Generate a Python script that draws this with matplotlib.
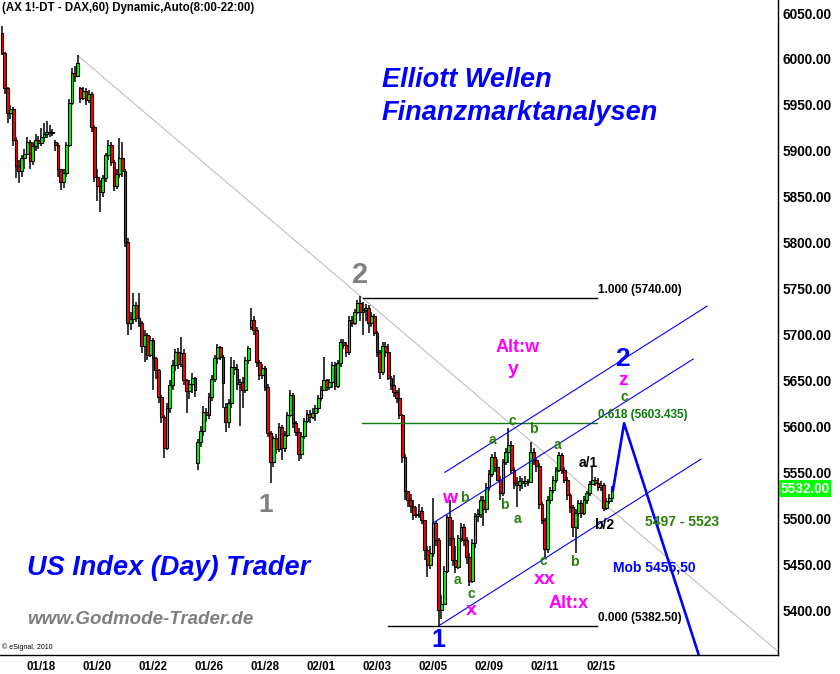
import numpy as np
import matplotlib.pyplot as plt

plt.rcParams['font.family'] = ['Liberation Sans', 'DejaVu Sans']

# DAX future, 60 min bars (08:00-22:00)
closes = [
    6006, 5968, 5941, 5945, 5912, 5884, 5878, 5892, 5897, 5910, 5889, 5905, 5912, 5908, 5915, 5918, 5921, 5920, 5919,
    5906, 5880, 5866, 5876, 5906, 5952, 5985, 5982, 5996,
    5958, 5965, 5955, 5962, 5926, 5871, 5862, 5855, 5870, 5895, 5906, 5888, 5862, 5875, 5892, 5878, 5801, 5713,
    5717, 5732, 5718, 5713, 5688, 5699, 5678, 5694, 5674, 5661, 5632, 5610, 5576, 5620, 5645, 5667, 5681, 5668,
    5680, 5650, 5638, 5646, 5653, 5640,
    5583, 5595, 5616, 5612, 5632, 5652, 5674, 5686, 5676, 5647, 5605, 5625, 5665, 5662, 5646, 5648, 5640, 5672, 5685,
    5716, 5705, 5670, 5656, 5664, 5643, 5593, 5561, 5587, 5575, 5599, 5577, 5591, 5612, 5634, 5604, 5594, 5570, 5589,
    5606, 5614, 5610, 5615, 5620, 5631, 5640, 5650, 5643, 5648, 5667, 5644, 5669, 5692, 5689, 5681, 5716, 5713, 5725,
    5734, 5725,
    5727, 5729, 5713, 5720, 5702, 5681, 5659, 5688, 5681, 5653, 5645, 5637, 5631, 5612, 5567, 5530, 5520, 5513, 5503,
    5505, 5508, 5498, 5465, 5449, 5462, 5495, 5476, 5400, 5407, 5443, 5501, 5478, 5455, 5447, 5478, 5490, 5476, 5458,
    5432, 5473, 5502, 5505, 5520, 5510, 5534, 5548, 5567, 5556, 5542, 5528, 5561, 5572, 5580, 5552, 5538, 5536, 5540,
    5538, 5541, 5539, 5572, 5563, 5557, 5515, 5498, 5467, 5520, 5531, 5542, 5552, 5569, 5553, 5542, 5525, 5512, 5490,
    5506, 5517, 5506, 5520, 5527, 5537, 5542, 5538, 5534, 5536, 5511, 5519, 5522, 5532,
]
highs = [
    6036, 6008, 5970, 5950, 5948, 5915, 5890, 5895, 5902, 5915, 5912, 5910, 5918, 5916, 5925, 5930, 5932, 5928, 5924,
    5912, 5908, 5878, 5880, 5910, 5956, 5990, 5992, 6004,
    5970, 5970, 5968, 5966, 5964, 5928, 5880, 5868, 5874, 5898, 5912, 5910, 5890, 5880, 5914, 5910, 5880, 5805,
    5725, 5745, 5735, 5745, 5715, 5705, 5702, 5698, 5696, 5676, 5662, 5634, 5612, 5625, 5650, 5672, 5684, 5685,
    5697, 5684, 5652, 5650, 5658, 5654,
    5586, 5600, 5622, 5620, 5636, 5656, 5678, 5690, 5688, 5678, 5625, 5630, 5675, 5672, 5668, 5652, 5654, 5676, 5688,
    5729, 5720, 5708, 5672, 5668, 5666, 5646, 5595, 5590, 5592, 5604, 5601, 5595, 5616, 5640, 5636, 5606, 5598, 5594,
    5609, 5618, 5618, 5620, 5623, 5634, 5644, 5675, 5652, 5652, 5670, 5670, 5672, 5695, 5695, 5692, 5720, 5720, 5728,
    5738, 5742,
    5735, 5733, 5732, 5725, 5722, 5704, 5683, 5692, 5692, 5690, 5655, 5656, 5640, 5642, 5614, 5570, 5530, 5526, 5520,
    5512, 5516, 5512, 5498, 5470, 5470, 5522, 5497, 5478, 5416, 5448, 5504, 5520, 5498, 5470, 5482, 5495, 5494, 5480,
    5462, 5477, 5506, 5510, 5524, 5524, 5538, 5552, 5570, 5572, 5565, 5546, 5565, 5576, 5598, 5584, 5556, 5545, 5546,
    5544, 5546, 5543, 5583, 5576, 5566, 5560, 5518, 5500, 5524, 5534, 5546, 5556, 5572, 5571, 5556, 5545, 5528, 5514,
    5510, 5520, 5520, 5524, 5530, 5540, 5556, 5545, 5544, 5540, 5538, 5522, 5526, 5535,
]
lows = [
    6004, 5962, 5930, 5935, 5905, 5870, 5865, 5872, 5880, 5895, 5880, 5885, 5900, 5902, 5905, 5910, 5914, 5915, 5916,
    5900, 5872, 5857, 5860, 5872, 5904, 5950, 5975, 5980,
    5952, 5955, 5950, 5952, 5920, 5866, 5845, 5833, 5850, 5866, 5890, 5884, 5856, 5858, 5870, 5872, 5795, 5700,
    5705, 5712, 5714, 5708, 5680, 5670, 5672, 5676, 5640, 5652, 5625, 5604, 5566, 5574, 5615, 5640, 5660, 5662,
    5665, 5645, 5615, 5630, 5636, 5632,
    5552, 5578, 5590, 5605, 5608, 5628, 5648, 5668, 5672, 5620, 5594, 5598, 5620, 5656, 5640, 5600, 5620, 5636, 5668,
    5705, 5700, 5665, 5650, 5652, 5638, 5588, 5538, 5556, 5570, 5572, 5563, 5572, 5588, 5610, 5598, 5590, 5562, 5565,
    5586, 5604, 5604, 5608, 5606, 5615, 5628, 5638, 5638, 5640, 5642, 5640, 5642, 5665, 5684, 5676, 5678, 5708, 5710,
    5722, 5715,
    5700, 5715, 5702, 5708, 5698, 5676, 5652, 5656, 5676, 5650, 5640, 5632, 5625, 5608, 5560, 5520, 5512, 5506, 5498,
    5500, 5500, 5494, 5455, 5436, 5445, 5458, 5470, 5383, 5390, 5405, 5440, 5470, 5448, 5440, 5445, 5474, 5470, 5450,
    5426, 5430, 5468, 5496, 5500, 5492, 5506, 5530, 5545, 5550, 5540, 5520, 5524, 5558, 5560, 5548, 5532, 5512, 5530,
    5532, 5534, 5535, 5538, 5558, 5550, 5510, 5494, 5457, 5462, 5515, 5528, 5538, 5550, 5548, 5538, 5520, 5506, 5480,
    5462, 5488, 5500, 5504, 5516, 5524, 5536, 5535, 5530, 5530, 5508, 5509, 5516, 5518,
]
first_open = 6028
gap_opens = {19: 5910, 28: 5968, 70: 5560, 80: 5621, 89: 5708}

date_pos = [14, 34, 54, 74, 94, 114, 134, 154, 174, 194, 214]
date_labels = ['01/18', '01/20', '01/22', '01/26', '01/28', '02/01', '02/03', '02/05', '02/09', '02/11', '02/15']
price_ticks = list(range(5400, 6051, 50))
last_price = 5532.00

# trend line from the January high through the wave-2 high
trend_x = [27, 278]
trend_y = [6004, 5353]

# fibonacci retracement of the 5740 -> 5382.5 move
fib_levels = [5740.00, 5603.435, 5382.50]
fib_start = [129, 128.7, 138]
fib_end = 212.7
fib_colors = ['black', '#0b7a0b', 'black']
fib_texts = ['1.000 (5740.00)', '0.618 (5603.435)', '0.000 (5382.50)']

# rising channel (three parallel lines)
chan_x0 = [158.3, 154.0, 156.5]
chan_y0 = [5550.0, 5494.8, 5383.7]
chan_x1 = [252.0, 247.0, 249.8]
chan_y1 = [5731.0, 5673.3, 5564.4]

# projected path: up to 0.618, then down
proj_x = [218.3, 222.3, 249.0]
proj_y = [5530, 5603.4, 5351]

MAG = '#ff00ff'
GRN = '#2a7d0a'
BLU = '#0000ff'

fig = plt.figure(figsize=(8.4, 6.74), dpi=100)
ax = fig.add_axes([0, 19 / 674, 778 / 840, 655 / 674])

n = len(closes)
xs = np.arange(n)
opens = [first_open] + closes[:-1]
for k, v in gap_opens.items():
    opens[k] = v

ax.plot(trend_x, trend_y, color='#c4b8b8', lw=0.75, zorder=1)

for i in range(n):
    o, c = opens[i], closes[i]
    hi = max(highs[i], o, c)
    lo = min(lows[i], o, c)
    ax.vlines(xs[i], lo, hi, color='black', lw=1.1, zorder=2)
    body = max(abs(c - o), 0.8)
    col = '#00ff00' if c >= o else '#ff0000'
    ax.bar(xs[i], body, bottom=min(o, c), width=1.0, color=col,
           edgecolor='black', linewidth=0.8, zorder=3)

for lvl, x0, col, txt in zip(fib_levels, fib_start, fib_colors, fib_texts):
    ax.plot([x0, fib_end], [lvl, lvl], color=col, lw=1.0, zorder=4)
    ax.text(fib_end + 0.3, lvl + 9, txt, color=col, fontsize=8.5,
            fontweight='bold', ha='left', va='center', zorder=6)

for a, b, c, d in zip(chan_x0, chan_y0, chan_x1, chan_y1):
    ax.plot([a, c], [b, d], color=BLU, lw=0.8, zorder=4)

ax.plot(proj_x, proj_y, color=BLU, lw=1.9, zorder=5)

# wave labels
labels = [
    ('2', 128.0, 5765, '#808080', 21),
    ('1', 94.4, 5514, '#808080', 19),
    ('1', 155.8, 5367, BLU, 18),
    ('2', 221.6, 5673, BLU, 19),
    ('Alt:w', 184.1, 5686, MAG, 13),
    ('y', 182.6, 5662, MAG, 14),
    ('w', 160.1, 5522, MAG, 14),
    ('b', 165.1, 5522, GRN, 10),
    ('a', 162.6, 5433, GRN, 10),
    ('c', 167.6, 5418, GRN, 10),
    ('x', 167.6, 5400, MAG, 14),
    ('a', 175.1, 5585, GRN, 10),
    ('c', 182.3, 5606, GRN, 10),
    ('b', 189.8, 5597, GRN, 10),
    ('b', 179.4, 5514, GRN, 10),
    ('a', 184.1, 5499, GRN, 10),
    ('a', 198.4, 5580, GRN, 10),
    ('c', 193.4, 5453, GRN, 10),
    ('xx', 194.1, 5433, MAG, 14),
    ('b', 204.4, 5452, GRN, 10),
    ('a/1', 209.4, 5560, 'black', 10),
    ('b/2', 215.1, 5493, 'black', 10),
    ('Alt:x', 202.6, 5407, MAG, 13),
    ('z', 221.9, 5650, MAG, 14),
    ('c', 222.3, 5632, GRN, 10),
]
for txt, x, y, col, fs in labels:
    ax.text(x, y, txt, color=col, fontsize=fs, fontweight='bold',
            ha='center', va='center', zorder=6)

ax.text(229.8, 5496, '5497 - 5523', color=GRN, fontsize=10, fontweight='bold',
        ha='left', va='center', zorder=6)
ax.text(218.4, 5446, 'Mob 5455,50', color=BLU, fontsize=10, fontweight='bold',
        ha='left', va='center', zorder=6)

# header / branding
fig.text(2 / 840, 1 - 8 / 674, '(AX 1!-DT - DAX,60) Dynamic,Auto(8:00-22:00)',
         fontsize=8.3, fontweight='bold', ha='left', va='center')
fig.text(382 / 840, 1 - 80 / 674, 'Elliott Wellen', color=BLU, fontsize=19.5,
         fontweight='bold', style='italic', ha='left', va='center')
fig.text(382 / 840, 1 - 113 / 674, 'Finanzmarktanalysen', color=BLU, fontsize=19.5,
         fontweight='bold', style='italic', ha='left', va='center')
fig.text(27 / 840, 1 - 568 / 674, 'US Index (Day) Trader', color=BLU, fontsize=19.5,
         fontweight='bold', style='italic', ha='left', va='center')
fig.text(27 / 840, 1 - 620 / 674, 'www.Godmode-Trader.de', color='#7f7f7f', fontsize=13.5,
         fontweight='bold', style='italic', ha='left', va='center')
fig.text(2 / 840, 1 - 647 / 674, '\u00a9 eSignal, 2010', fontsize=5, ha='left', va='center')

ax.set_xlim(-0.7, 277.3)
ax.set_ylim(5351.1, 6064.2)
ax.yaxis.tick_right()
ax.set_yticks(price_ticks)
ax.set_yticklabels(['%.2f' % p for p in price_ticks], fontsize=9.8, fontweight='bold')
ax.set_xticks(date_pos)
ax.set_xticklabels(date_labels, fontsize=8.3, fontweight='bold')
ax.tick_params(axis='both', length=0)
ax.tick_params(axis='y', pad=3)
ax.tick_params(axis='x', pad=4)
for side in ['left', 'top']:
    ax.spines[side].set_visible(False)
for side in ['right', 'bottom']:
    ax.spines[side].set_linewidth(1.0)

ax.text(1.003, last_price, '%.2f' % last_price, transform=ax.get_yaxis_transform(),
        color='white', fontsize=9.8, fontweight='bold', ha='left', va='center',
        bbox=dict(boxstyle='square,pad=0.12', facecolor='#00ff00', edgecolor='none'), zorder=7)

fig.savefig('out.png', dpi=100)
